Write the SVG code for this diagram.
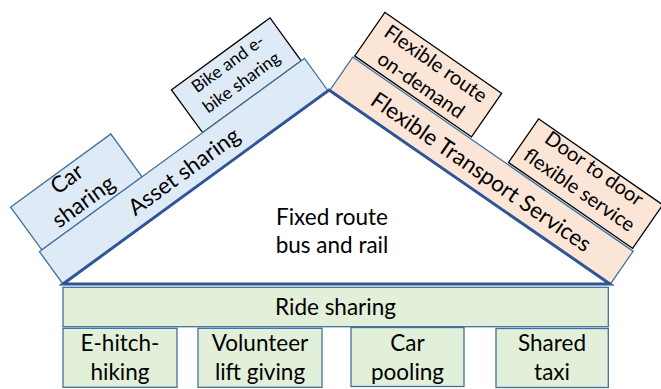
<svg xmlns="http://www.w3.org/2000/svg" width="661" height="389" viewBox="0 0 661 389">
<style>
.blue{fill:#DEEBF7;stroke:#41719C;stroke-width:1.3}
.blueK{fill:#DEEBF7;stroke:#000;stroke-width:1.3}
.peach{fill:#FBE5D6;stroke:#41719C;stroke-width:1.3}
.peachK{fill:#FBE5D6;stroke:#000;stroke-width:1.3}
.green{fill:#E2F0D9;stroke:#41719C;stroke-width:1.3}
text{font-family:Lato,"Open Sans","DejaVu Sans",sans-serif;fill:#000;text-anchor:middle}
.t24{font-size:22.5px}
.t21{font-size:20px}
.t18{font-size:17.3px}
</style>
<rect width="661" height="389" fill="#fff"/>
<g id="asset-sharing" transform="translate(63,284) rotate(-36.1)">
  <g id="car-sharing">
    <rect class="blue" x="3" y="-93" width="124" height="53"/>
    <text class="t24" x="65" y="-75">Car</text>
    <text class="t24" x="65" y="-47">sharing</text>
  </g>
  <g id="bike-sharing">
    <rect class="blueK" x="202" y="-93" width="122" height="53"/>
    <text class="t18" x="263" y="-75">Bike and e-</text>
    <text class="t18" x="263" y="-52">bike sharing</text>
  </g>
  <rect class="blue" x="0" y="-40" width="328" height="40"/>
  <text class="t24" x="164" y="-12">Asset sharing</text>
</g>
<g id="flexible-transport" transform="translate(330,90) rotate(34.7)">
  <g id="flexible-route">
    <rect class="peachK" x="1" y="-95" width="142" height="53"/>
    <text class="t21" x="72" y="-75">Flexible route</text>
    <text class="t21" x="72" y="-49">on-demand</text>
  </g>
  <g id="door-to-door">
    <rect class="peachK" x="188" y="-95" width="151" height="53"/>
    <text class="t21" x="262" y="-79">Door to door</text>
    <text class="t21" x="262" y="-53">flexible service</text>
  </g>
  <rect class="peach" x="0" y="-40" width="341" height="40"/>
  <text class="t24" x="171" y="-11">Flexible Transport Services</text>
</g>
<g id="triangle">
  <polygon points="63,284 329,90 610,284" fill="none" stroke="#2F5597" stroke-width="3" stroke-linejoin="miter"/>
</g>
<g id="fixed-route">
  <text class="t24" x="332" y="224.5">Fixed route</text>
  <text class="t24" x="332" y="252.7">bus and rail</text>
</g>
<g id="ride-sharing">
  <rect class="green" x="63" y="287.3" width="545.3" height="39.4"/>
  <text class="t24" x="335.5" y="315">Ride sharing</text>
</g>
<g id="e-hitch-hiking">
  <rect class="green" x="63" y="328.3" width="114" height="59"/>
  <text class="t24" x="120" y="351">E-hitch-</text>
  <text class="t24" x="120" y="380">hiking</text>
</g>
<g id="volunteer-lift-giving">
  <rect class="green" x="198" y="328.3" width="124" height="59"/>
  <text class="t24" x="260" y="351">Volunteer</text>
  <text class="t24" x="260" y="380">lift giving</text>
</g>
<g id="car-pooling">
  <rect class="green" x="351" y="327.5" width="113" height="59"/>
  <text class="t24" x="407.5" y="351">Car</text>
  <text class="t24" x="407.5" y="380">pooling</text>
</g>
<g id="shared-taxi">
  <rect class="green" x="496" y="328.5" width="112.3" height="59"/>
  <text class="t24" x="552" y="351">Shared</text>
  <text class="t24" x="552" y="380">taxi</text>
</g>
<g id="connectors"/>
</svg>
